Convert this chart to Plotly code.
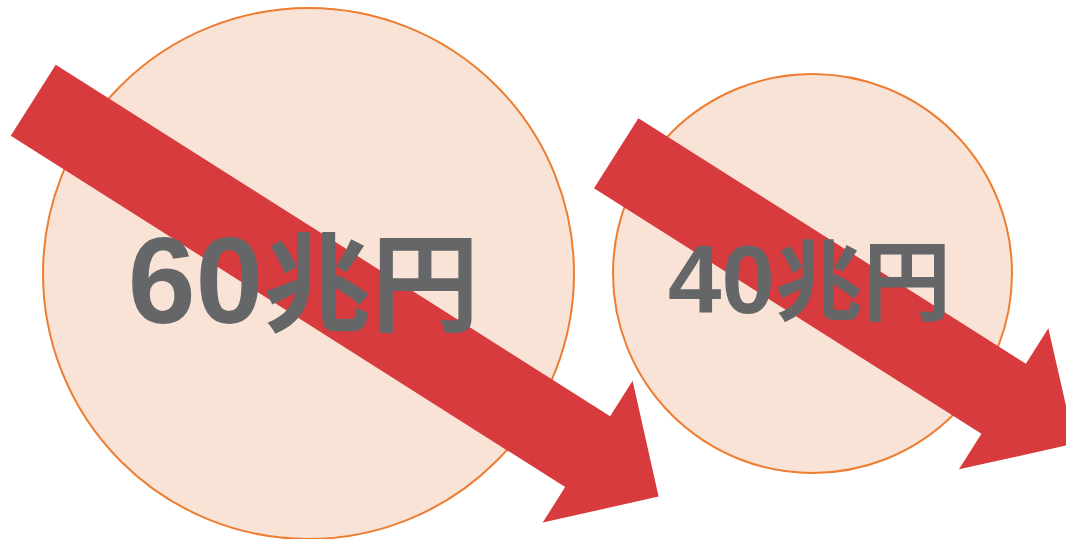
import numpy as np
import plotly.graph_objects as go

# ---- data ----
numbers = ["60", "40"]
unit = "兆円"
values = [60, 40]
circle_cx = [308.5, 812.5]
circle_cy = [273.5, 273.5]
circle_r = [265.5, 199.5]
label_x = [303.5, 809.5]
label_y = [292, 289]
digit_size = [122, 96]
unit_size = [108, 88]

# arrows: tail centre, angle (deg, downward), total length, shaft width, head width, head length
arrow_tx = [33.25, 616.2]
arrow_ty = [100.2, 153.2]
arrow_angle = [32.37, 32.36]
arrow_len = [740.4, 542.7]
shaft_w = [84, 83]
head_w = [168, 167]
head_l = [84, 84]

W, H = 1066, 539
fig = go.Figure()

for cx, cy, r in zip(circle_cx, circle_cy, circle_r):
    fig.add_shape(type="circle", xref="x", yref="y",
                  x0=cx - r, x1=cx + r, y0=cy - r, y1=cy + r,
                  fillcolor="#F9E3D6", line=dict(color="#ED7D31", width=2),
                  layer="below")

def arrow_poly(tx, ty, ang, L, sw, hw, hl):
    a = np.deg2rad(ang)
    u = np.array([np.cos(a), np.sin(a)])
    n = np.array([np.sin(a), -np.cos(a)])
    t = np.array([tx, ty])
    s = L - hl
    pts = [t + n * sw / 2, t + u * s + n * sw / 2, t + u * s + n * hw / 2,
           t + u * L, t + u * s - n * hw / 2, t + u * s - n * sw / 2,
           t - n * sw / 2, t + n * sw / 2]
    pts = np.array(pts)
    return pts[:, 0], pts[:, 1]

for i in range(len(arrow_tx)):
    xs, ys = arrow_poly(arrow_tx[i], arrow_ty[i], arrow_angle[i], arrow_len[i],
                        shaft_w[i], head_w[i], head_l[i])
    fig.add_trace(go.Scatter(x=xs, y=ys, mode="lines", fill="toself",
                             fillcolor="#D83B3D", line=dict(width=0, color="#D83B3D"),
                             hoverinfo="skip", showlegend=False))

for num, x, y, ds, us in zip(numbers, label_x, label_y, digit_size, unit_size):
    txt = f"<b>{num}<span style='font-size:{us}px;font-family:Noto Sans CJK JP'>{unit}</span></b>"
    fig.add_trace(go.Scatter(x=[x], y=[y], mode="text", text=[txt],
                             textposition="middle center",
                             textfont=dict(family="Liberation Sans, Noto Sans CJK JP", size=ds, color="#656668"),
                             hoverinfo="skip", showlegend=False))

fig.update_layout(width=W, height=H, margin=dict(l=0, r=0, t=0, b=0),
                  paper_bgcolor="white", plot_bgcolor="white",
                  xaxis=dict(range=[0, W], visible=False, fixedrange=True),
                  yaxis=dict(range=[H, 0], visible=False, fixedrange=True),
                  showlegend=False)
fig.write_html("out.html", config={"displayModeBar": False},
               post_script="document.body.style.margin='0';document.body.style.overflow='hidden';")
